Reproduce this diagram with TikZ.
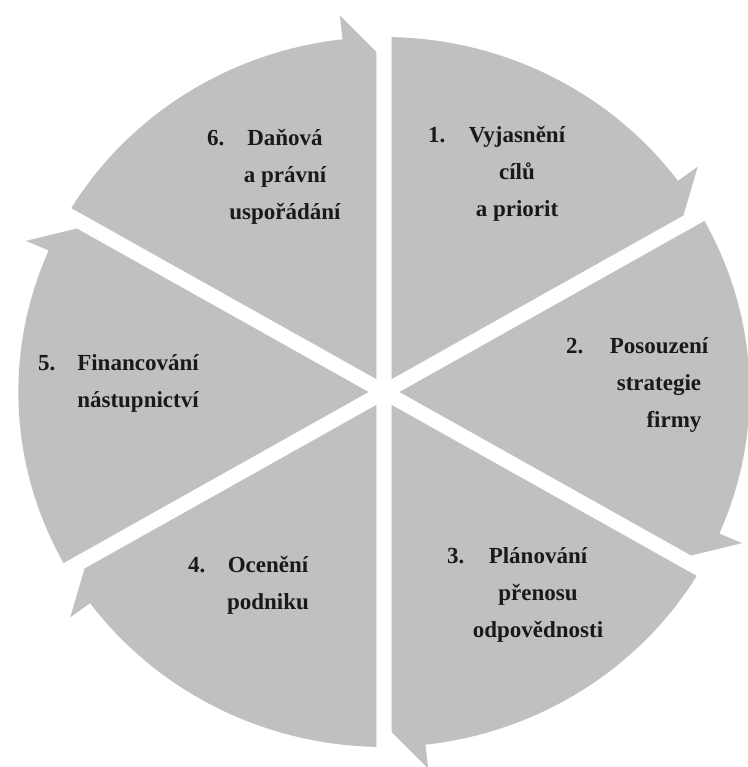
\documentclass[tikz,border=0pt]{standalone}
\usepackage{fontspec}
\setmainfont{Liberation Serif}
\usepackage{xcolor}
\usepackage{tikz}
\usetikzlibrary{calc}

\definecolor{segfill}{RGB}{192,192,192}
\definecolor{segtext}{RGB}{25,25,25}

\begin{document}
\begin{tikzpicture}[x=1pt, y=1pt,
        font=\fontsize{23}{37}\selectfont\bfseries,
        segment/.style={fill=segfill},
        steptext/.style={text=segtext, align=center, anchor=base, inner sep=0pt},
        stepnum/.style={text=segtext, anchor=base west, inner sep=0pt}]
      \useasboundingbox (-384,-375) rectangle (363,392);
      \begin{scope}[xscale=1.03]
        \foreach \b in {30,-30,-90,-150,150,90}
          \fill[segment] ({\b+30}:15) -- ({\b+60-1.2}:355)
            arc[start angle=\b+60-1.2, end angle=\b+6.5, radius=355]
            -- ({\b+6.5}:379) -- ($(\b:340)+(\b+90:7.5)$) -- cycle;
      \end{scope}
      \node[stepnum] (n1) at (44,249) {1.};
      \node[steptext] (t1) at (133,175) {Vyjasnění\\cílů\\a priorit};
      \node[stepnum] (n2) at (182,38) {2.};
      \node[steptext] (t2) at (275,-36) {Posouzení\\strategie\\\hspace*{30pt}firmy};
      \node[stepnum] (n3) at (63,-171) {3.};
      \node[steptext] (t3) at (154,-245) {Plánování\\přenosu\\odpovědnosti};
      \node[stepnum] (n4) at (-196,-180) {4.};
      \node[steptext] (t4) at (-116,-217) {Ocenění\\podniku};
      \node[stepnum] (n5) at (-346,21) {5.};
      \node[steptext] (t5) at (-246,-16) {Financování\\nástupnictví};
      \node[stepnum] (n6) at (-177,246) {6.};
      \node[steptext] (t6) at (-99,172) {Daňová\\a právní\\uspořádání};
    \end{tikzpicture}
\end{document}
